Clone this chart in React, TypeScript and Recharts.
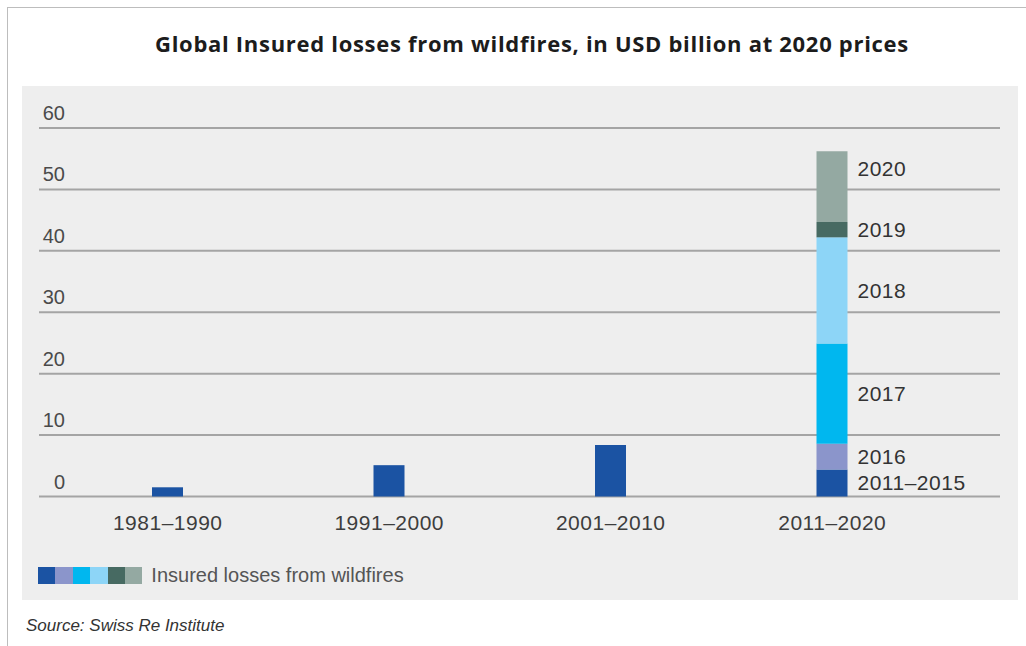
import React from 'react';
import { BarChart, Bar, XAxis, YAxis, CartesianGrid, Legend, LabelList } from 'recharts';

// decades on the x axis
const decades = ['1981–1990', '1991–2000', '2001–2010', '2011–2020'];
const labelledDecade = '2011–2020';

// insured losses, USD bn at 2020 prices (first three bars are whole decades)
const losses2011to2015 = [1.5, 5.1, 8.4, 4.4];
const losses2016 = [null, null, null, 4.2];
const losses2017 = [null, null, null, 16.3];
const losses2018 = [null, null, null, 17.3];
const losses2019 = [null, null, null, 2.5];
const losses2020 = [null, null, null, 11.5];

const seriesNames = ['2011–2015', '2016', '2017', '2018', '2019', '2020'];
const seriesValues = [losses2011to2015, losses2016, losses2017, losses2018, losses2019, losses2020];
const yTicks = [0, 10, 20, 30, 40, 50, 60];

const seriesColors = ['#1b53a3', '#8b95cb', '#00b7ef', '#8dd5f7', '#476a62', '#94a9a2'];
// the 2020 label sits nearer the top of its segment
const labelLift = [0, 0, 0, 0, 0, 18];

const data = decades.map((decade, i) => {
  const row: Record<string, string | number | null> = { decade };
  seriesValues.forEach((vals, s) => {
    row[`s${s}`] = vals[i];
    row[`label${s}`] = decade === labelledDecade && vals[i] != null ? seriesNames[s] : null;
  });
  return row;
});

const FONT = '"Liberation Sans", Arial, sans-serif';

const YTick = (props: any) => {
  const { x, y, payload } = props;
  return (
    <text x={x + 26} y={y - 8} textAnchor="end" fontFamily={FONT} fontSize={20} fill="#4a4a4a">
      {payload.value}
    </text>
  );
};

const XTick = (props: any) => {
  const { x, y, payload } = props;
  return (
    <text x={x} y={y + 33} textAnchor="middle" fontFamily={FONT} fontSize={21} letterSpacing={0.5} fill="#3d3d3d">
      {payload.value}
    </text>
  );
};

const segmentLabel = (lift: number) => (props: any) => {
  const vb = props.viewBox ?? props;
  const x = vb.x ?? props.x;
  const y = vb.y ?? props.y;
  const width = vb.width ?? props.width;
  const height = vb.height ?? props.height;
  const { value } = props;
  if (value == null || value === '') return null;
  return (
    <text
      x={x + width + 10}
      y={y + height / 2 - lift}
      dominantBaseline="central"
      fontFamily={FONT}
      fontSize={21}
      letterSpacing={0.5}
      fill="#333"
    >
      {value}
    </text>
  );
};

const renderLegend = (props: any) => {
  const items = props.payload ?? [];
  return (
    <div style={{ display: 'flex', alignItems: 'center' }}>
      {items.map((it: any, i: number) => (
        <span key={i} style={{ display: 'inline-block', width: 17.4, height: 17, background: it.color }} />
      ))}
      <span style={{ marginLeft: 9, fontFamily: FONT, fontSize: 20, color: '#555' }}>
        Insured losses from wildfires
      </span>
    </div>
  );
};

export default function App() {
  return (
    <div style={{ position: 'absolute', left: 0, top: 0, width: 1026, height: 646, background: '#fff', overflow: 'hidden' }}>
      <div
        style={{
          position: 'absolute',
          left: 7,
          top: 7,
          width: 1030,
          height: 650,
          borderLeft: '1px solid #bdbdbd',
          borderTop: '1px solid #bdbdbd',
        }}
      />
      <div
        style={{
          position: 'absolute',
          left: 56,
          top: 32,
          width: 952,
          textAlign: 'center',
          fontFamily: '"Open Sans", sans-serif',
          fontWeight: 700,
          fontSize: 22,
          letterSpacing: 0.7,
          lineHeight: '22px',
          color: '#1c1c1c',
        }}
      >
        Global Insured losses from wildfires, in USD billion at 2020 prices
      </div>
      <div style={{ position: 'absolute', left: 22, top: 86, width: 996, height: 514, background: '#eeeeee' }}>
        <BarChart width={996} height={514} data={data} margin={{ top: 42, right: 18, left: 0, bottom: 0 }}>
          <CartesianGrid horizontal vertical={false} stroke="#a4a4a4" strokeWidth={2} />
          <XAxis
            dataKey="decade"
            height={103.5}
            axisLine={false}
            tickLine={false}
            tickSize={0}
            tickMargin={0}
            padding={{ left: 18, right: 57 }}
            tick={<XTick />}
            interval={0}
          />
          <YAxis
            width={17}
            domain={[0, 60]}
            ticks={yTicks}
            axisLine={false}
            tickLine={false}
            tickSize={0}
            tickMargin={0}
            tick={<YTick />}
          />
          <Legend
            layout="horizontal"
            verticalAlign="middle"
            align="center"
            content={renderLegend}
            wrapperStyle={{ left: 16, top: 478, width: 'auto' }}
          />
          {seriesNames.map((name, s) => (
            <Bar
              key={name}
              dataKey={`s${s}`}
              name={name}
              stackId="losses"
              fill={seriesColors[s]}
              barSize={31}
              isAnimationActive={false}
            >
              <LabelList dataKey={`label${s}`} content={segmentLabel(labelLift[s])} />
            </Bar>
          ))}
        </BarChart>
      </div>
      <div
        style={{
          position: 'absolute',
          left: 26,
          top: 617,
          fontFamily: FONT,
          fontStyle: 'italic',
          fontSize: 17,
          lineHeight: '17px',
          color: '#333',
        }}
      >
        Source: Swiss Re Institute
      </div>
    </div>
  );
}
